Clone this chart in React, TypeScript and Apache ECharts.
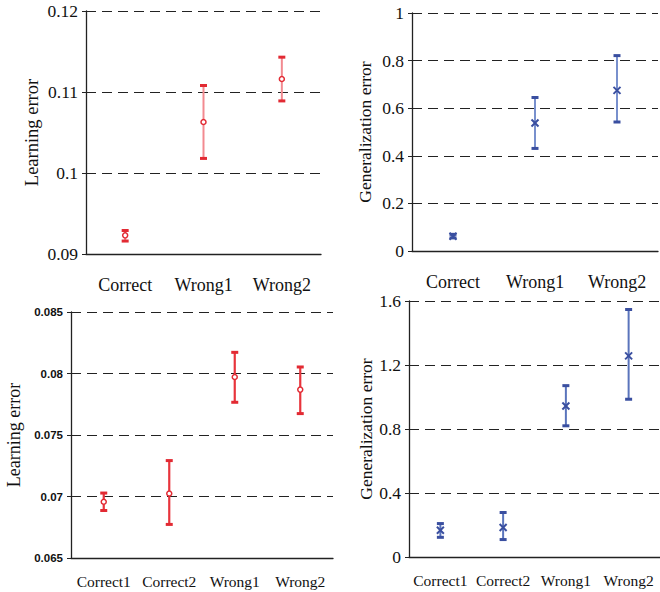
import React, { useEffect, useRef } from "react";
import * as echarts from "echarts";

const topCategories = ["Correct", "Wrong1", "Wrong2"];
const bottomCategories = ["Correct1", "Correct2", "Wrong1", "Wrong2"];

const learnTopMean = [0.0923, 0.1063, 0.1116];
const learnTopLow = [0.0916, 0.1018, 0.1089];
const learnTopHigh = [0.0929, 0.1108, 0.1143];

const genTopMean = [0.062, 0.538, 0.675];
const genTopLow = [0.055, 0.431, 0.542];
const genTopHigh = [0.07, 0.645, 0.821];

const learnBotMean = [0.06957, 0.07024, 0.07972, 0.07869];
const learnBotLow = [0.06886, 0.06773, 0.07766, 0.07674];
const learnBotHigh = [0.07028, 0.07292, 0.08172, 0.08053];

const genBotMean = [0.167, 0.184, 0.944, 1.257];
const genBotLow = [0.123, 0.109, 0.82, 0.986];
const genBotHigh = [0.209, 0.278, 1.071, 1.547];

const SERIF = "'Liberation Serif', 'Times New Roman', serif";

function rows(mean: number[], low: number[], high: number[]) {
  return mean.map((m, i) => [i, m, low[i], high[i]]);
}

function makeRender(kind: "circle" | "cross", lineColor: string, capColor: string, lineWidth: number) {
  return (params: any, api: any) => {
    const cat = api.value(0);
    const pm = api.coord([cat, api.value(1)]);
    const pl = api.coord([cat, api.value(2)]);
    const ph = api.coord([cat, api.value(3)]);
    const x = pm[0];
    const capW = 7;
    const children: any[] = [
      {
        type: "line",
        shape: { x1: x, y1: pl[1], x2: x, y2: ph[1] },
        style: { stroke: lineColor, lineWidth },
      },
      {
        type: "rect",
        shape: { x: x - capW / 2, y: ph[1] - 1.5, width: capW, height: 3 },
        style: { fill: capColor },
      },
      {
        type: "rect",
        shape: { x: x - capW / 2, y: pl[1] - 1.5, width: capW, height: 3 },
        style: { fill: capColor },
      },
    ];
    if (kind === "circle") {
      children.push({
        type: "circle",
        shape: { cx: x, cy: pm[1], r: 2.5 },
        style: { fill: "#fff", stroke: capColor, lineWidth: 1.5 },
      });
    } else {
      const s = 3.5;
      children.push(
        {
          type: "line",
          shape: { x1: x - s, y1: pm[1] - s, x2: x + s, y2: pm[1] + s },
          style: { stroke: capColor, lineWidth: 2 },
        },
        {
          type: "line",
          shape: { x1: x - s, y1: pm[1] + s, x2: x + s, y2: pm[1] - s },
          style: { stroke: capColor, lineWidth: 2 },
        }
      );
    }
    return { type: "group", children };
  };
}

export default function App() {
  const ref = useRef<HTMLDivElement>(null);
  useEffect(() => {
    if (!ref.current) return;
    const chart = echarts.init(ref.current, undefined, { renderer: "svg" });

    const xAxisBase = (gridIndex: number, data: string[], fontSize: number, margin: number) => ({
      type: "category",
      gridIndex,
      data,
      boundaryGap: true,
      axisLine: { lineStyle: { color: "#222", width: 1.3 } },
      axisTick: { inside: true, length: 6, lineStyle: { color: "#222", width: 1.3 } },
      axisLabel: { color: "#111", fontFamily: SERIF, fontSize, margin, interval: 0 },
      splitLine: { show: false },
    });

    const yAxisBase = (
      gridIndex: number,
      min: number,
      max: number,
      interval: number,
      name: string,
      nameGap: number,
      nameSize: number,
      labelStyle: any
    ) => ({
      type: "value",
      gridIndex,
      min,
      max,
      interval,
      name,
      nameLocation: "middle",
      nameGap,
      nameTextStyle: { fontFamily: SERIF, fontSize: nameSize, color: "#111" },
      axisLine: { show: true, lineStyle: { color: "#222", width: 1.3 } },
      axisTick: { show: true, length: 4, lineStyle: { color: "#222" } },
      axisLabel: Object.assign({ color: "#111", margin: 8 }, labelStyle),
      splitLine: { show: true, lineStyle: { color: "#222", type: [10, 6], width: 1.2 } },
    });

    const serifLabel = { fontFamily: SERIF, fontSize: 17.5 };
    const boldLabel = { fontFamily: "'Liberation Sans', Arial, sans-serif", fontSize: 11.5, fontWeight: "bold" };

    chart.setOption({
      animation: false,
      backgroundColor: "#fff",
      grid: [
        { left: 86, right: 339, top: 11, bottom: 338 },
        { left: 412, right: 2, top: 13, bottom: 341 },
        { left: 71, right: 327, top: 312, bottom: 34 },
        { left: 409, right: -7, top: 301, bottom: 35 },
      ],
      xAxis: [
        xAxisBase(0, topCategories, 18, 22),
        xAxisBase(1, topCategories, 18, 22),
        xAxisBase(2, bottomCategories, 15.5, 15),
        xAxisBase(3, bottomCategories, 15.5, 15),
      ],
      yAxis: [
        yAxisBase(0, 0.09, 0.12, 0.01, "Learning error", 45, 18.5, serifLabel),
        yAxisBase(1, 0, 1, 0.2, "Generalization error", 38, 17.5, serifLabel),
        yAxisBase(2, 0.065, 0.085, 0.005, "Learning error", 48, 18, boldLabel),
        yAxisBase(3, 0, 1.6, 0.4, "Generalization error", 32, 17.5, serifLabel),
      ],
      series: [
        {
          type: "custom",
          xAxisIndex: 0,
          yAxisIndex: 0,
          data: rows(learnTopMean, learnTopLow, learnTopHigh),
          renderItem: makeRender("circle", "#f28a90", "#e22a33", 2),
        },
        {
          type: "custom",
          xAxisIndex: 1,
          yAxisIndex: 1,
          data: rows(genTopMean, genTopLow, genTopHigh),
          renderItem: makeRender("cross", "#6a84c8", "#3a4fa0", 1.8),
        },
        {
          type: "custom",
          xAxisIndex: 2,
          yAxisIndex: 2,
          data: rows(learnBotMean, learnBotLow, learnBotHigh),
          renderItem: makeRender("circle", "#e8343c", "#e22a33", 2.2),
        },
        {
          type: "custom",
          xAxisIndex: 3,
          yAxisIndex: 3,
          data: rows(genBotMean, genBotLow, genBotHigh),
          renderItem: makeRender("cross", "#5a74bc", "#3a4fa0", 2),
        },
      ],
    });
    return () => chart.dispose();
  }, []);

  return (
    <div
      ref={ref}
      style={{ position: "fixed", left: 0, top: 0, width: 660, height: 592 }}
    />
  );
}
